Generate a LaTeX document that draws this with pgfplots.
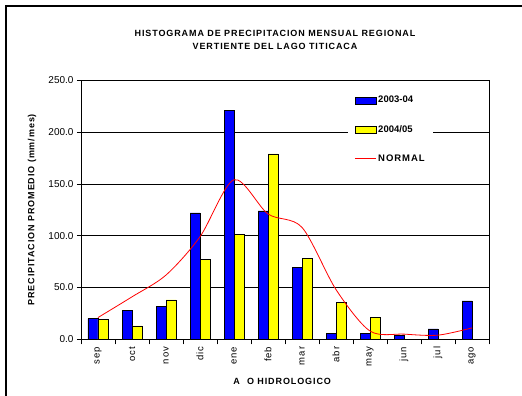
\documentclass[border=0pt]{standalone}
\usepackage{fontspec}
\setmainfont{Liberation Sans}
\newfontfamily\spaced[LetterSpace=10]{Liberation Sans}
\usepackage{pgfplots}
\pgfplotsset{compat=1.18}
\pgfplotsset{
  barleg/.style={legend image code/.code={\draw[##1] (0pt,-3.5pt) rectangle (21pt,3.5pt);}},
  lineleg/.style={legend image code/.code={\draw[##1] (0pt,0pt) -- (21pt,0pt);}},
}

\begin{document}
\begin{tikzpicture}[x=1pt,y=1pt]
\useasboundingbox (0,0) rectangle (522,396);
\draw[line width=1.2pt] (6,-5) -- (6,390) -- (530,390);
\node[font=\spaced\bfseries\fontsize{9}{13}\selectfont, align=center] at (275,356.5)
  {HISTOGRAMA DE PRECIPITACION MENSUAL REGIONAL\\VERTIENTE DEL LAGO TITICACA};
\begin{axis}[
  at={(81pt,56.7pt)}, anchor=south west,
  scale only axis, width=408pt, height=259pt,
  xmin=-0.5, xmax=11.5, ymin=0, ymax=250,
  xtick={0,...,11},
  xticklabels={sep,oct,nov,dic,ene,feb,mar,abr,may,jun,jul,ago},
  x tick label style={rotate=90, anchor=east, font=\spaced\fontsize{9.5}{10}\selectfont},
  major x tick style={draw=none},
  minor xtick={-0.5,0.5,...,11.5},
  minor tick length=5pt, major tick length=4pt,
  tick align=outside, xtick pos=bottom, ytick pos=left,
  ytick={0,50,...,250},
  y tick label style={font=\fontsize{10}{10}\selectfont,
    /pgf/number format/.cd, fixed, fixed zerofill, precision=1, assume math mode=true},
  ymajorgrids, major grid style={black, line width=0.6pt},
  axis line style={line width=0.8pt},
  tick style={black, line width=0.6pt},
  ylabel={PRECIPITACION PROMEDIO (mm/mes)},
  ylabel style={at={(axis description cs:-0.12,0.5)}, anchor=center, font=\spaced\bfseries\fontsize{9}{10}\selectfont},
  xlabel={A\hspace{0.8em}O HIDROLOGICO},
  xlabel style={at={(axis description cs:0.493,-0.161)}, anchor=center, font=\spaced\bfseries\fontsize{9}{10}\selectfont},
  legend style={at={(axis description cs:0.655,0.97)}, anchor=north west, draw=none, fill=white,
    font=\bfseries\fontsize{9.5}{10}\selectfont, row sep=17pt, inner xsep=6pt, inner ysep=6pt},
  legend cell align=left,
]
\addplot[ybar, bar width=10pt, bar shift=-5pt, fill={rgb,255:red,0;green,0;blue,255}, draw=black, line width=0.6pt, barleg]
  coordinates {(0,20) (1,28) (2,32) (3,122) (4,221) (5,124) (6,69.5) (7,6) (8,6) (9,4) (10,10) (11,37)};
\addplot[ybar, bar width=10pt, bar shift=5pt, fill={rgb,255:red,255;green,255;blue,0}, draw=black, line width=0.6pt, barleg]
  coordinates {(0,19.5) (1,13) (2,38) (3,77) (4,101) (5,179) (6,78) (7,35.7) (8,21) (9,0) (10,0) (11,0)};
\addplot[red, line width=0.8pt, sharp plot, smooth, no marks, lineleg]
  coordinates {(0,21) (1,41) (2,62) (3,99) (4,154) (5,121) (6,108) (7,48) (8,8) (9,5) (10,4) (11,11)};
\legend{2003-04, 2004/05, {\spaced NORMAL}}
\end{axis}
\end{tikzpicture}
\end{document}
